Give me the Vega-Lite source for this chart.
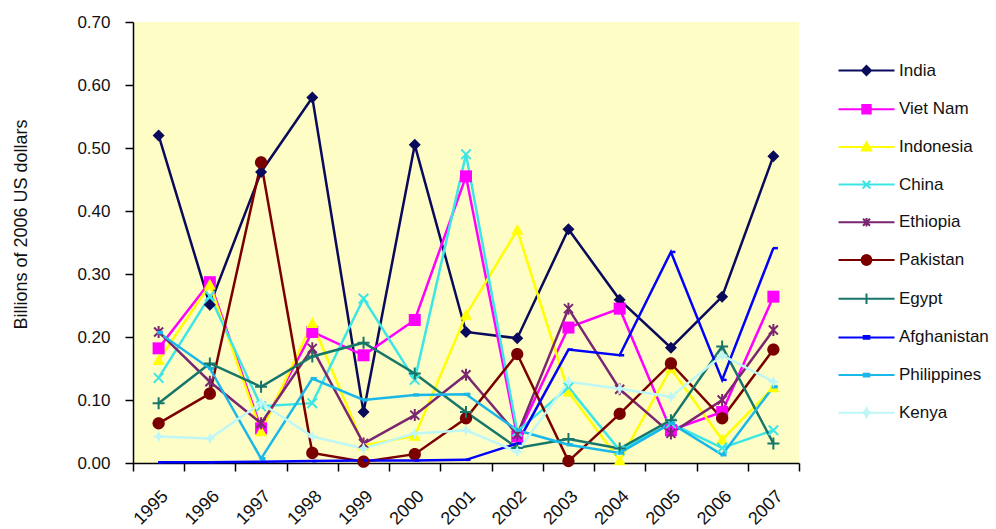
{
  "$schema": "https://vega.github.io/schema/vega-lite/v6.json",
  "width": 666,
  "height": 441,
  "autosize": "none",
  "padding": {"left": 133, "top": 22, "right": 197, "bottom": 66},
  "background": "white",
  "config": {
    "view": {"fill": "#FFFDC6", "stroke": null},
    "font": "Liberation Sans",
    "axis": {"labelFont": "Liberation Sans", "titleFont": "Liberation Sans", "domainColor": "#000", "tickColor": "#000", "domainWidth": 1.5, "tickWidth": 1.5, "grid": false},
    "legend": {"labelFont": "Liberation Sans"}
  },
  "data": {"values": [
    {"year":"1995","country":"India","value":0.52},{"year":"1996","country":"India","value":0.251},{"year":"1997","country":"India","value":0.462},{"year":"1998","country":"India","value":0.58},{"year":"1999","country":"India","value":0.081},{"year":"2000","country":"India","value":0.505},{"year":"2001","country":"India","value":0.208},{"year":"2002","country":"India","value":0.198},{"year":"2003","country":"India","value":0.371},{"year":"2004","country":"India","value":0.259},{"year":"2005","country":"India","value":0.183},{"year":"2006","country":"India","value":0.264},{"year":"2007","country":"India","value":0.487},
    {"year":"1995","country":"Viet Nam","value":0.182},{"year":"1996","country":"Viet Nam","value":0.287},{"year":"1997","country":"Viet Nam","value":0.055},{"year":"1998","country":"Viet Nam","value":0.208},{"year":"1999","country":"Viet Nam","value":0.171},{"year":"2000","country":"Viet Nam","value":0.227},{"year":"2001","country":"Viet Nam","value":0.455},{"year":"2002","country":"Viet Nam","value":0.042},{"year":"2003","country":"Viet Nam","value":0.215},{"year":"2004","country":"Viet Nam","value":0.245},{"year":"2005","country":"Viet Nam","value":0.052},{"year":"2006","country":"Viet Nam","value":0.081},{"year":"2007","country":"Viet Nam","value":0.264},
    {"year":"1995","country":"Indonesia","value":0.163},{"year":"1996","country":"Indonesia","value":0.283},{"year":"1997","country":"Indonesia","value":0.05},{"year":"1998","country":"Indonesia","value":0.222},{"year":"1999","country":"Indonesia","value":0.028},{"year":"2000","country":"Indonesia","value":0.043},{"year":"2001","country":"Indonesia","value":0.235},{"year":"2002","country":"Indonesia","value":0.37},{"year":"2003","country":"Indonesia","value":0.113},{"year":"2004","country":"Indonesia","value":0.004},{"year":"2005","country":"Indonesia","value":0.15},{"year":"2006","country":"Indonesia","value":0.037},{"year":"2007","country":"Indonesia","value":0.12},
    {"year":"1995","country":"China","value":0.135},{"year":"1996","country":"China","value":0.265},{"year":"1997","country":"China","value":0.09},{"year":"1998","country":"China","value":0.095},{"year":"1999","country":"China","value":0.261},{"year":"2000","country":"China","value":0.132},{"year":"2001","country":"China","value":0.49},{"year":"2002","country":"China","value":0.05},{"year":"2003","country":"China","value":0.12},{"year":"2004","country":"China","value":0.02},{"year":"2005","country":"China","value":0.063},{"year":"2006","country":"China","value":0.024},{"year":"2007","country":"China","value":0.052},
    {"year":"1995","country":"Ethiopia","value":0.208},{"year":"1996","country":"Ethiopia","value":0.129},{"year":"1997","country":"Ethiopia","value":0.063},{"year":"1998","country":"Ethiopia","value":0.182},{"year":"1999","country":"Ethiopia","value":0.031},{"year":"2000","country":"Ethiopia","value":0.076},{"year":"2001","country":"Ethiopia","value":0.14},{"year":"2002","country":"Ethiopia","value":0.045},{"year":"2003","country":"Ethiopia","value":0.245},{"year":"2004","country":"Ethiopia","value":0.117},{"year":"2005","country":"Ethiopia","value":0.047},{"year":"2006","country":"Ethiopia","value":0.1},{"year":"2007","country":"Ethiopia","value":0.211},
    {"year":"1995","country":"Pakistan","value":0.063},{"year":"1996","country":"Pakistan","value":0.11},{"year":"1997","country":"Pakistan","value":0.477},{"year":"1998","country":"Pakistan","value":0.016},{"year":"1999","country":"Pakistan","value":0.002},{"year":"2000","country":"Pakistan","value":0.014},{"year":"2001","country":"Pakistan","value":0.071},{"year":"2002","country":"Pakistan","value":0.173},{"year":"2003","country":"Pakistan","value":0.003},{"year":"2004","country":"Pakistan","value":0.078},{"year":"2005","country":"Pakistan","value":0.158},{"year":"2006","country":"Pakistan","value":0.071},{"year":"2007","country":"Pakistan","value":0.18},
    {"year":"1995","country":"Egypt","value":0.095},{"year":"1996","country":"Egypt","value":0.158},{"year":"1997","country":"Egypt","value":0.121},{"year":"1998","country":"Egypt","value":0.169},{"year":"1999","country":"Egypt","value":0.191},{"year":"2000","country":"Egypt","value":0.142},{"year":"2001","country":"Egypt","value":0.081},{"year":"2002","country":"Egypt","value":0.024},{"year":"2003","country":"Egypt","value":0.038},{"year":"2004","country":"Egypt","value":0.023},{"year":"2005","country":"Egypt","value":0.068},{"year":"2006","country":"Egypt","value":0.185},{"year":"2007","country":"Egypt","value":0.031},
    {"year":"1995","country":"Afghanistan","value":0.001},{"year":"1996","country":"Afghanistan","value":0.001},{"year":"1997","country":"Afghanistan","value":0.002},{"year":"1998","country":"Afghanistan","value":0.003},{"year":"1999","country":"Afghanistan","value":0.004},{"year":"2000","country":"Afghanistan","value":0.004},{"year":"2001","country":"Afghanistan","value":0.005},{"year":"2002","country":"Afghanistan","value":0.031},{"year":"2003","country":"Afghanistan","value":0.18},{"year":"2004","country":"Afghanistan","value":0.171},{"year":"2005","country":"Afghanistan","value":0.335},{"year":"2006","country":"Afghanistan","value":0.132},{"year":"2007","country":"Afghanistan","value":0.341},
    {"year":"1995","country":"Philippines","value":0.207},{"year":"1996","country":"Philippines","value":0.15},{"year":"1997","country":"Philippines","value":0.007},{"year":"1998","country":"Philippines","value":0.134},{"year":"1999","country":"Philippines","value":0.1},{"year":"2000","country":"Philippines","value":0.108},{"year":"2001","country":"Philippines","value":0.109},{"year":"2002","country":"Philippines","value":0.052},{"year":"2003","country":"Philippines","value":0.029},{"year":"2004","country":"Philippines","value":0.016},{"year":"2005","country":"Philippines","value":0.063},{"year":"2006","country":"Philippines","value":0.013},{"year":"2007","country":"Philippines","value":0.121},
    {"year":"1995","country":"Kenya","value":0.042},{"year":"1996","country":"Kenya","value":0.039},{"year":"1997","country":"Kenya","value":0.095},{"year":"1998","country":"Kenya","value":0.042},{"year":"1999","country":"Kenya","value":0.023},{"year":"2000","country":"Kenya","value":0.047},{"year":"2001","country":"Kenya","value":0.052},{"year":"2002","country":"Kenya","value":0.018},{"year":"2003","country":"Kenya","value":0.129},{"year":"2004","country":"Kenya","value":0.118},{"year":"2005","country":"Kenya","value":0.105},{"year":"2006","country":"Kenya","value":0.171},{"year":"2007","country":"Kenya","value":0.129}
  ]},
  "encoding": {
    "x": {"field": "year", "type": "ordinal", "scale": {"type": "band", "paddingInner": 0, "paddingOuter": 0},
      "axis": {"title": null, "labelAngle": -45, "labelFontSize": 18, "labelColor": "#111", "tickSize": 8, "tickBand": "extent", "labelPadding": 16}},
    "y": {"field": "value", "type": "quantitative", "scale": {"domain": [0, 0.7], "nice": false, "zero": true},
      "axis": {"title": "Billions of 2006 US dollars", "titleFontSize": 18, "titleFontWeight": "normal", "titleColor": "#111", "titlePadding": 46, "titleY": 202, "values": [0, 0.1, 0.2, 0.3, 0.4, 0.5, 0.6, 0.7], "format": ".2f", "labelFontSize": 17, "labelColor": "#111", "tickSize": 8, "labelPadding": 15}},
    "color": {"field": "country", "type": "nominal",
      "scale": {"domain": ["India","Viet Nam","Indonesia","China","Ethiopia","Pakistan","Egypt","Afghanistan","Philippines","Kenya"],
                "range": ["#0A0A5C","#FF00FF","#FFFF00","#3CE6E6","#7A2670","#7A0000","#16766A","#0000FF","#1AB8E8","#BFF7F7"]}}
  },
  "layer": [
    {"mark": {"type": "line", "strokeWidth": 2.5}},
    {"transform": [{"filter": "datum.country === 'India'"}], "mark": {"type": "point", "shape": "M0,-1L1,0L0,1L-1,0Z", "filled": true, "size": 144, "opacity": 1}},
    {"transform": [{"filter": "datum.country === 'Viet Nam'"}], "mark": {"type": "point", "shape": "M-1,-1L1,-1L1,1L-1,1Z", "filled": true, "size": 144, "opacity": 1}},
    {"transform": [{"filter": "datum.country === 'Indonesia'"}], "mark": {"type": "point", "shape": "M0,-1L1,0.8L-1,0.8Z", "filled": true, "size": 144, "opacity": 1}},
    {"transform": [{"filter": "datum.country === 'China'"}], "mark": {"type": "point", "shape": "M-0.8,-0.8L0.8,0.8M-0.8,0.8L0.8,-0.8", "filled": false, "strokeWidth": 2, "size": 144, "opacity": 1}},
    {"transform": [{"filter": "datum.country === 'Ethiopia'"}], "mark": {"type": "point", "shape": "M-0.75,-0.75L0.75,0.75M-0.75,0.75L0.75,-0.75M0,-1L0,1", "filled": false, "strokeWidth": 2, "size": 144, "opacity": 1}},
    {"transform": [{"filter": "datum.country === 'Pakistan'"}], "mark": {"type": "point", "shape": "M1,0A1,1,0,1,1,-1,0A1,1,0,1,1,1,0Z", "filled": true, "size": 150, "opacity": 1}},
    {"transform": [{"filter": "datum.country === 'Egypt'"}], "mark": {"type": "point", "shape": "M-1,0L1,0M0,-1L0,1", "filled": false, "strokeWidth": 2, "size": 144, "opacity": 1}},
    {"transform": [{"filter": "datum.country === 'Afghanistan'"}], "mark": {"type": "point", "shape": "M-0.1,-0.25L0.9,-0.25L0.9,0.25L-0.1,0.25Z", "filled": true, "size": 100, "opacity": 1}},
    {"transform": [{"filter": "datum.country === 'Philippines'"}], "mark": {"type": "point", "shape": "M-0.3,-0.3L0.8,-0.3L0.8,0.3L-0.3,0.3Z", "filled": true, "size": 121, "opacity": 1}},
    {"transform": [{"filter": "datum.country === 'Kenya'"}], "mark": {"type": "point", "shape": "M0,-1L0.3,-0.3L1,0L0.3,0.3L0,1L-0.3,0.3L-1,0L-0.3,-0.3Z", "filled": true, "size": 144, "opacity": 1}},
    {"mark": {"type": "point", "filled": true, "opacity": 1, "fillOpacity": 0, "strokeOpacity": 0},
     "encoding": {
       "color": {"field": "country", "type": "nominal",
         "legend": {"title": null, "orient": "none", "legendX": 725, "legendY": 40, "symbolSize": 196, "symbolStrokeWidth": 2, "labelFontSize": 17, "labelColor": "#111", "labelOffset": 24, "rowPadding": 19.7, "padding": 0,
           "encode": {"symbols": {"fill": {"scale": "color", "field": "value"}, "stroke": {"scale": "color", "field": "value"}, "strokeWidth": {"value": 2}, "opacity": {"value": 1}, "fillOpacity": {"value": 1}, "strokeOpacity": {"value": 1}}}}},
       "shape": {"field": "country", "type": "nominal",
         "scale": {"domain": ["India","Viet Nam","Indonesia","China","Ethiopia","Pakistan","Egypt","Afghanistan","Philippines","Kenya"],
           "range": [
             "M-4,0L4,0M0,-0.65L0.65,0L0,0.65L-0.65,0Z",
             "M-4,0L4,0M-0.6,-0.6L0.6,-0.6L0.6,0.6L-0.6,0.6Z",
             "M-4,0L4,0M0,-0.65L0.65,0.5L-0.65,0.5Z",
             "M-4,0L4,0M-0.55,-0.55L0.55,0.55M-0.55,0.55L0.55,-0.55",
             "M-4,0L4,0M-0.5,-0.5L0.5,0.5M-0.5,0.5L0.5,-0.5M0,-0.6L0,0.6",
             "M-4,0L4,0M0.7,0A0.7,0.7,0,1,1,-0.7,0A0.7,0.7,0,1,1,0.7,0Z",
             "M-4,0L4,0M0,-0.75L0,0.75",
             "M-4,0L4,0M-0.4,-0.2L0.4,-0.2L0.4,0.2L-0.4,0.2Z",
             "M-4,0L4,0M-0.4,-0.2L0.4,-0.2L0.4,0.2L-0.4,0.2Z",
             "M-4,0L4,0M0,-0.65L0.2,-0.2L0.65,0L0.2,0.2L0,0.65L-0.2,0.2L-0.65,0L-0.2,-0.2Z"
           ]},
         "legend": {"title": null, "orient": "none", "legendX": 725, "legendY": 40, "symbolSize": 196, "symbolStrokeWidth": 2, "labelFontSize": 17, "labelColor": "#111", "labelOffset": 24, "rowPadding": 19.7, "padding": 0,
           "encode": {"symbols": {"fill": {"scale": "color", "field": "value"}, "stroke": {"scale": "color", "field": "value"}, "strokeWidth": {"value": 2}, "opacity": {"value": 1}, "fillOpacity": {"value": 1}, "strokeOpacity": {"value": 1}}}}}
     }}
  ]
}
